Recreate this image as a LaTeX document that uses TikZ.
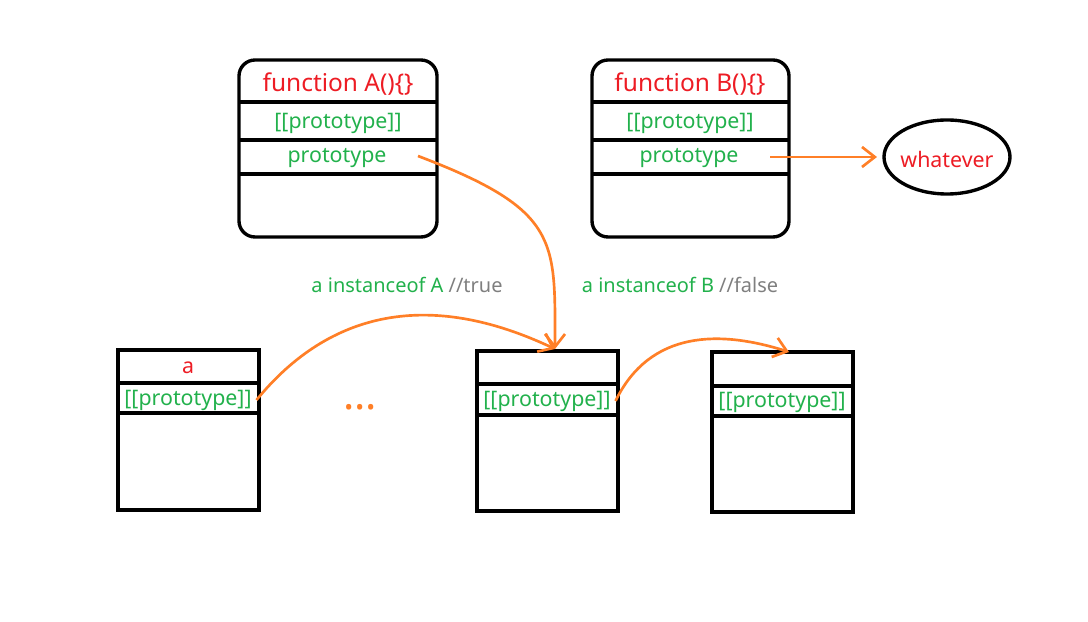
\documentclass[tikz,border=0pt]{standalone}
\usepackage{fontspec}
\setmainfont{Noto Sans}
\usepackage{tikz}
\usetikzlibrary{arrows.meta}
\definecolor{MyRed}{RGB}{237,28,36}
\definecolor{MyGreen}{RGB}{34,177,76}
\definecolor{MyOrange}{RGB}{255,127,39}
\definecolor{MyGrey}{RGB}{127,127,127}
\newcommand{\redtxt}[1]{{\color{MyRed}{#1}}}
\newcommand{\greentxt}[1]{{\color{MyGreen}{#1}}}
\newcommand{\greytxt}[1]{{\color{MyGrey}{#1}}}
\tikzset{
  box/.style={draw=black, line width=2.4pt},
  link/.style={draw=MyOrange, line width=1.9pt, -{Straight Barb[length=3.2mm,width=5mm]}},
  big/.style={font=\fontsize{17.4}{19}\selectfont},
  mid/.style={font=\fontsize{15.2}{17}\selectfont},
  small/.style={font=\fontsize{14.2}{16}\selectfont}
}

\begin{document}
\begin{tikzpicture}[x=0.025cm,y=-0.025cm]
        \useasboundingbox (0,0) rectangle (1088,622);
        % functions
        \draw [box, rounded corners=0.4cm] (239,60) rectangle (437,237);
        \draw [box] (239,102) -- (437,102) (239,140) -- (437,140) (239,174) -- (437,174);
        \node[big] (fA) at (338,84) {\redtxt{function A()\{\}}};
        \node[mid] (protoA) at (338,123) {\greentxt{[[prototype]]}};
        \node[mid] (pA) at (337,158) {\greentxt{prototype}};
        \draw [box, rounded corners=0.4cm] (592,60) rectangle (789,237);
        \draw [box] (592,102) -- (789,102) (592,140) -- (789,140) (592,174) -- (789,174);
        \node[big] (fB) at (690,84) {\redtxt{function B()\{\}}};
        \node[mid] (protoB) at (690,123) {\greentxt{[[prototype]]}};
        \node[mid] (pB) at (689,158) {\greentxt{prototype}};
        \draw [box] (947,157) ellipse (63 and 37);
        \node[mid] (what) at (947,159) {\redtxt{whatever}};
        % objects
        \draw [box] (118,350) rectangle (259,510);
        \draw [box] (118,383) -- (259,383) (118,413) -- (259,413);
        \node[mid] (a) at (188,368) {\redtxt{a}};
        \node[mid] (protoa) at (188,400) {\greentxt{[[prototype]]}};
        \draw [box] (477,351) rectangle (618,511);
        \draw [box] (477,384) -- (618,384) (477,415) -- (618,415);
        \node[mid] (protoM) at (547,401) {\greentxt{[[prototype]]}};
        \draw [box] (712,352) rectangle (853,512);
        \draw [box] (712,386) -- (853,386) (712,416) -- (853,416);
        \node[mid] (protoR) at (782,402) {\greentxt{[[prototype]]}};
        \node[font=\fontsize{30}{32}\selectfont\bfseries] (dots) at (360,407) {\color{MyOrange}...};
        % labels
        \node[small] (lblA) at (407,285) {\greentxt{a instanceof A} \greytxt{//true}};
        \node[small] (lblB) at (680,285) {\greentxt{a instanceof B} \greytxt{//false}};
        % links
        \coordinate (srcA) at (418,156);
        \coordinate (srcB) at (770,157);
        \coordinate (whatW) at (877,157);
        \coordinate (topM) at (555,349);
        \coordinate (topR) at (789,352);
        \draw [link] (srcB) -- (whatW);
        \draw [link] (srcA) .. controls (560,210) and (555,240) .. (topM);
        \draw [link] (protoa.east) .. controls (330,310) and (430,290) .. (topM);
        \draw [link] (protoM.east) .. controls (650,330) and (720,330) .. (topR);
      \end{tikzpicture}
\end{document}
